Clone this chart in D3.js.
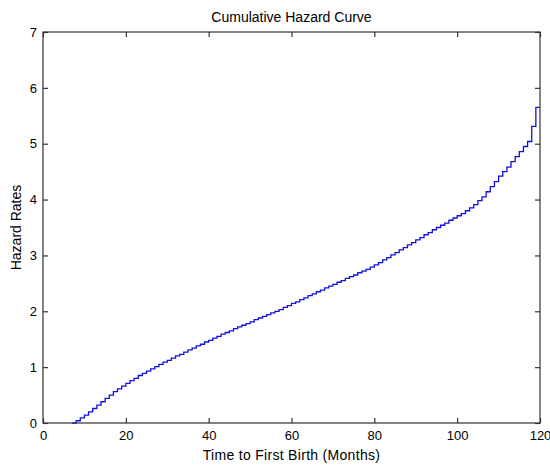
<!DOCTYPE html>
<html>
<head>
<meta charset="utf-8">
<script src="https://cdn.jsdelivr.net/npm/d3@7"></script>
<style>
  body { margin: 0; background: #fff; }
  text { font-family: "Liberation Sans", Arial, sans-serif; fill: #000; }
</style>
</head>
<body>
<div class="canvas"></div>
<script>
// step times (months) and cumulative hazard
const months = [7, 8, 9, 10, 11, 12, 13, 14, 15, 16, 17, 18, 19, 20,
  21, 22, 23, 24, 25, 26, 27, 28, 29, 30, 31, 32, 33, 34, 35, 36, 37, 38, 39, 40,
  41, 42, 43, 44, 45, 46, 47, 48, 49, 50, 51, 52, 53, 54, 55, 56, 57, 58, 59, 60,
  61, 62, 63, 64, 65, 66, 67, 68, 69, 70, 71, 72, 73, 74, 75, 76, 77, 78, 79, 80,
  81, 82, 83, 84, 85, 86, 87, 88, 89, 90, 91, 92, 93, 94, 95, 96, 97, 98, 99, 100,
  101, 102, 103, 104, 105, 106, 107, 108, 109, 110, 111, 112, 113, 114, 115, 116, 117, 118, 119, 120];
const hazard = [0.00, 0.04, 0.09, 0.14, 0.20, 0.26, 0.32, 0.38, 0.44, 0.50, 0.56, 0.61, 0.66, 0.71,
  0.76, 0.80, 0.85, 0.89, 0.93, 0.97, 1.01, 1.05, 1.09, 1.12, 1.16, 1.20, 1.23, 1.27, 1.31, 1.34, 1.38, 1.41, 1.45, 1.48,
  1.52, 1.55, 1.59, 1.62, 1.65, 1.69, 1.72, 1.75, 1.78, 1.81, 1.85, 1.88, 1.91, 1.94, 1.97, 2.00, 2.03, 2.07, 2.10, 2.14,
  2.17, 2.21, 2.24, 2.28, 2.31, 2.35, 2.38, 2.42, 2.45, 2.48, 2.52, 2.55, 2.59, 2.62, 2.65, 2.69, 2.72, 2.75, 2.79, 2.83,
  2.87, 2.92, 2.96, 3.01, 3.05, 3.10, 3.14, 3.19, 3.23, 3.28, 3.32, 3.37, 3.41, 3.46, 3.50, 3.54, 3.58, 3.63, 3.67, 3.71,
  3.75, 3.80, 3.85, 3.91, 3.98, 4.05, 4.14, 4.23, 4.32, 4.42, 4.50, 4.58, 4.68, 4.77, 4.86, 4.95, 5.04, 5.31, 5.65, 5.65];
const xTicks = [0, 20, 40, 60, 80, 100, 120];
const yTicks = [0, 1, 2, 3, 4, 5, 6, 7];

const margin = { top: 32, right: 10, bottom: 43, left: 43 };
const width = 550 - margin.left - margin.right;
const height = 466 - margin.top - margin.bottom;

const svg = d3
  .select(".canvas")
  .append("svg")
  .attr("width", 550)
  .attr("height", 466)
  .append("g")
  .attr("transform", `translate(${margin.left},${margin.top})`);

const x = d3.scaleLinear().domain([0, 120]).range([0, width]);
const y = d3.scaleLinear().domain([0, 7]).range([height, 0]);

const data = months.map((m, i) => ({ t: m, h: hazard[i] }));

// the step curve
const line = d3
  .line()
  .x((d) => x(d.t))
  .y((d) => y(d.h))
  .curve(d3.curveStepAfter);

svg
  .append("path")
  .datum(data)
  .attr("d", line)
  .attr("fill", "none")
  .attr("stroke", "#1010e0")
  .attr("stroke-width", 1.3);

// box with inward ticks on all sides (matlab style)
const axisColor = "#333";
const tk = 5;

svg
  .append("rect")
  .attr("x", 0)
  .attr("y", 0)
  .attr("width", width)
  .attr("height", height)
  .attr("fill", "none")
  .attr("stroke", axisColor)
  .attr("stroke-width", 1.2);

const xAxis = svg.append("g").attr("transform", `translate(0, ${height})`);
xAxis.call(d3.axisBottom(x).tickValues(xTicks).tickSize(-tk).tickPadding(8).tickFormat(d3.format("d")));
const yAxis = svg.append("g");
yAxis.call(d3.axisLeft(y).tickValues(yTicks).tickSize(-tk).tickPadding(6).tickFormat(d3.format("d")));
const xTop = svg.append("g");
xTop.call(d3.axisTop(x).tickValues(xTicks).tickSize(-tk).tickFormat(""));
const yRight = svg.append("g").attr("transform", `translate(${width}, 0)`);
yRight.call(d3.axisRight(y).tickValues(yTicks).tickSize(-tk).tickFormat(""));

svg.selectAll(".domain").remove();
svg.selectAll(".tick line").attr("stroke", axisColor).attr("stroke-width", 1.2);
svg.selectAll(".tick text").attr("font-size", 13).attr("fill", "#000");

// title and axis labels
svg
  .append("text")
  .attr("x", width / 2)
  .attr("y", -10)
  .attr("text-anchor", "middle")
  .attr("font-size", 14)
  .text("Cumulative Hazard Curve");

svg
  .append("text")
  .attr("x", width / 2)
  .attr("y", height + 37)
  .attr("text-anchor", "middle")
  .attr("font-size", 14)
  .attr("letter-spacing", 0.3)
  .text("Time to First Birth (Months)");

svg
  .append("text")
  .attr("transform", `translate(${-22}, ${height / 2}) rotate(-90)`)
  .attr("text-anchor", "middle")
  .attr("font-size", 14)
  .text("Hazard Rates");
</script>
</body>
</html>
